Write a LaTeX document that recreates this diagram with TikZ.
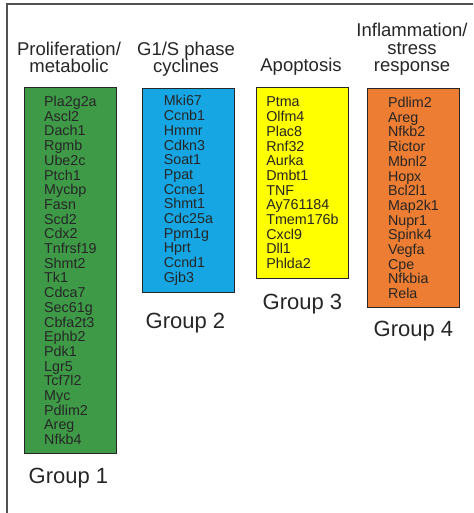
\documentclass[tikz,border=0pt]{standalone}
\usepackage{fontspec}
\setmainfont{Liberation Sans}
\usetikzlibrary{positioning}

\definecolor{prolifgreen}{RGB}{62,154,71}
\definecolor{cycleblue}{RGB}{22,166,228}
\definecolor{apopyellow}{RGB}{255,255,0}
\definecolor{stressorange}{RGB}{237,125,50}
\definecolor{inkgrey}{RGB}{38,38,38}

\tikzset{
  genebox/.style={draw=inkgrey, line width=0.9pt, fill=#1, anchor=north west,
    minimum width=92pt, align=left, text=inkgrey,
    font=\fontsize{14.3}{14.7}\selectfont},
  header/.style={anchor=base, align=center, text=inkgrey,
    font=\fontsize{18.5}{17.5}\selectfont},
  grouplabel/.style={anchor=north, text=inkgrey,
    font=\fontsize{22}{24}\selectfont},
}

\begin{document}
\begin{tikzpicture}[x=1pt,y=-1pt]
  \clip (0,0) rectangle (473,513);
  \useasboundingbox (0,0) rectangle (473,513);
  % outer frame, cut off at right and bottom
  \draw[inkgrey!80, line width=1.2pt] (7,520) |- (480,4);

  % headers
  \node[header] (h1) at (69,73) {Proliferation/\\metabolic};
  \node[header] (h2) at (186,73) {G1/S phase\\cyclines};
  \node[header] (h3) at (301,72) {Apoptosis};
  \node[header] (h4) at (412,72) {Inflammation/\\stress\\response};

  % gene lists
  \node[genebox=prolifgreen, minimum height=366pt] (g1) at (24,87)
    {Pla2g2a\\Ascl2\\Dach1\\Rgmb\\Ube2c\\Ptch1\\Mycbp\\Fasn\\Scd2\\Cdx2\\
     Tnfrsf19\\Shmt2\\Tk1\\Cdca7\\Sec61g\\Cbfa2t3\\Ephb2\\Pdk1\\Lgr5\\
     Tcf7l2\\Myc\\Pdlim2\\Areg\\Nfkb4};
  \node[genebox=cycleblue, minimum height=204pt] (g2) at (142,88)
    {Mki67\\Ccnb1\\Hmmr\\Cdkn3\\Soat1\\Ppat\\Ccne1\\Shmt1\\Cdc25a\\
     Ppm1g\\Hprt\\Ccnd1\\Gjb3};
  \node[genebox=apopyellow, minimum height=191pt] (g3) at (256,87)
    {Ptma\\Olfm4\\Plac8\\Rnf32\\Aurka\\Dmbt1\\TNF\\Ay761184\\Tmem176b\\
     Cxcl9\\Dll1\\Phlda2};
  \node[genebox=stressorange, minimum height=219pt] (g4) at (367,88)
    {Pdlim2\\Areg\\Nfkb2\\Rictor\\Mbnl2\\Hopx\\Bcl2l1\\Map2k1\\Nupr1\\
     Spink4\\Vegfa\\Cpe\\Nfkbia\\Rela};

  % group names
  \node[grouplabel, below=10.5pt of g1, xshift=-2pt] (l1) {Group 1};
  \node[grouplabel, below=16.5pt of g2, xshift=-3pt] (l2) {Group 2};
  \node[grouplabel, below=11.5pt of g3] (l3) {Group 3};
  \node[grouplabel, below=9.5pt of g4] (l4) {Group 4};
\end{tikzpicture}
\end{document}
